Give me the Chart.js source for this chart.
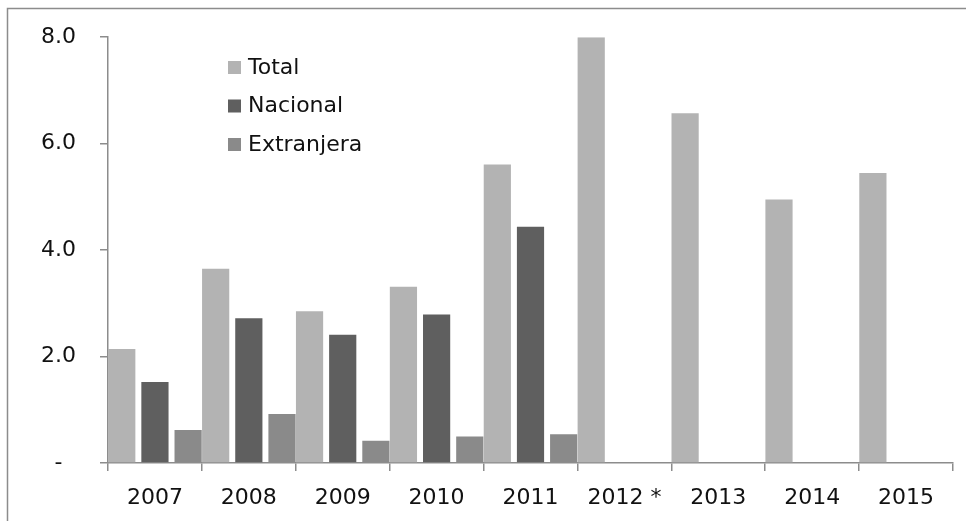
<!DOCTYPE html>
<html>
<head>
<meta charset="utf-8">
<script src="https://cdn.jsdelivr.net/npm/chart.js@4/dist/chart.umd.min.js"></script>
<style>
  html, body { margin: 0; padding: 0; background: #ffffff; }
  #wrap { width: 966px; height: 521px; position: relative; }
</style>
</head>
<body>
<div id="wrap"><canvas id="c" width="966" height="521"></canvas></div>
<script>
const categories = ['2007', '2008', '2009', '2010', '2011', '2012 *', '2013', '2014', '2015'];
const totalValues = [2.14, 3.65, 2.85, 3.31, 5.61, 8.0, 6.57, 4.95, 5.45];
const nacionalValues = [1.52, 2.72, 2.41, 2.79, 4.44, null, null, null, null];
const extranjeraValues = [0.62, 0.92, 0.42, 0.50, 0.54, null, null, null, null];
const seriesNames = ['Total', 'Nacional', 'Extranjera'];
const yTickLabels = ['-', '2.0', '4.0', '6.0', '8.0'];

const FONT = 'DejaVu Sans';
const AXIS = '#8c8c8c';

const framePlugin = {
  id: 'frame',
  beforeDraw(chart) {
    const ctx = chart.ctx;
    ctx.save();
    ctx.fillStyle = '#ffffff';
    ctx.fillRect(0, 0, chart.width, chart.height);
    ctx.strokeStyle = '#8c8c8c';
    ctx.lineWidth = 1.5;
    ctx.strokeRect(7.5, 8.5, 1000, 600);
    ctx.restore();
  }
};

const legendPlugin = {
  id: 'customLegend',
  afterDraw(chart) {
    const ctx = chart.ctx;
    ctx.save();
    ctx.font = '22px "' + FONT + '"';
    ctx.textBaseline = 'middle';
    ctx.textAlign = 'left';
    chart.data.datasets.forEach((ds, i) => {
      const cy = 67 + i * 38.5;
      ctx.fillStyle = ds.backgroundColor;
      ctx.fillRect(228, cy - 6, 13, 13);
      ctx.fillStyle = '#111111';
      ctx.fillText(ds.label, 248, cy + 1);
    });
    ctx.restore();
  }
};

new Chart(document.getElementById('c'), {
  type: 'bar',
  data: {
    labels: categories,
    datasets: [
      { label: seriesNames[0], data: totalValues, backgroundColor: '#b3b3b3' },
      { label: seriesNames[1], data: nacionalValues, backgroundColor: '#5f5f5f' },
      { label: seriesNames[2], data: extranjeraValues, backgroundColor: '#8a8a8a' }
    ]
  },
  options: {
    responsive: false,
    animation: false,
    devicePixelRatio: 1,
    layout: { padding: { top: 33, right: 13, left: 0, bottom: 0 } },
    datasets: { bar: { categoryPercentage: 1.06, barPercentage: 0.82 } },
    plugins: {
      legend: { display: false },
      tooltip: { enabled: false }
    },
    scales: {
      x: {
        grid: { offset: true, drawOnChartArea: false, drawTicks: true, tickLength: 8, color: AXIS, lineWidth: 1.5 },
        border: { display: true, color: AXIS, width: 1.5 },
        ticks: { color: '#111111', font: { family: FONT, size: 22 }, padding: 14, maxRotation: 0, autoSkip: false },
        afterFit(scale) { scale.height = 58; }
      },
      y: {
        min: 0,
        max: 8,
        grid: { drawOnChartArea: false, drawTicks: true, tickLength: 8, color: AXIS, lineWidth: 1.5 },
        border: { display: true, color: AXIS, width: 1.5 },
        ticks: {
          stepSize: 2,
          color: '#111111',
          font: { family: FONT, size: 22 },
          padding: 24,
          crossAlign: 'center',
          callback: (value, index) => yTickLabels[index]
        },
        afterFit(scale) { scale.width = 108; }
      }
    }
  },
  plugins: [framePlugin, legendPlugin]
});
</script>
</body>
</html>
